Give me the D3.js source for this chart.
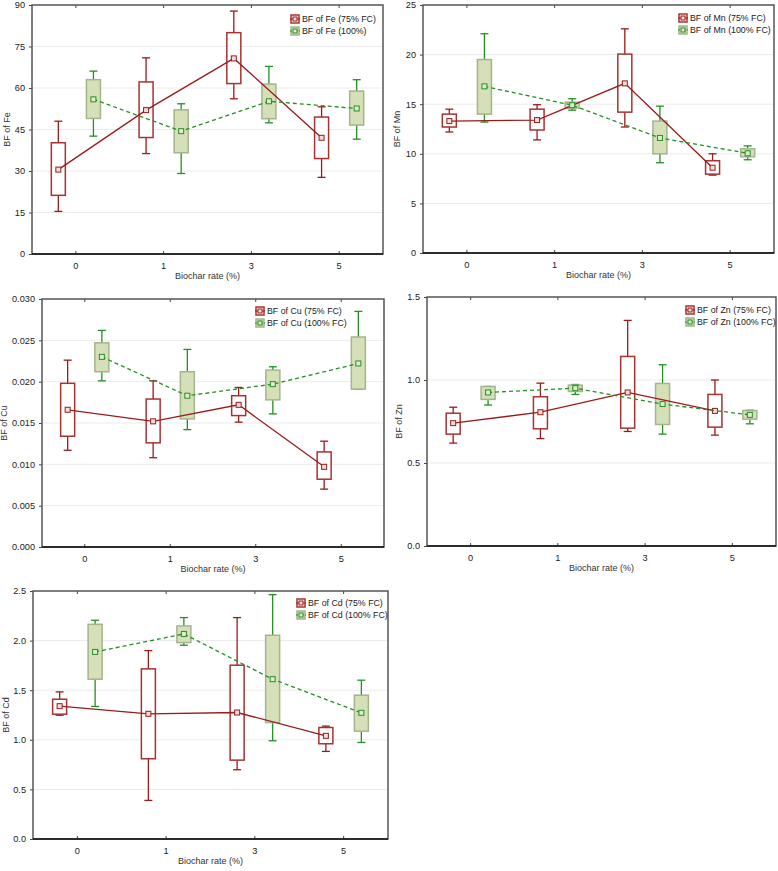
<!DOCTYPE html>
<html><head><meta charset="utf-8">
<script src="https://cdn.jsdelivr.net/npm/d3@7"></script>
<style>body{margin:0;background:#fff}svg{display:block}text{font-family:"Liberation Sans",Arial,sans-serif}</style>
</head><body>
<svg id="c" width="778" height="871"></svg>
<script>
// ---- data: each row = [whiskerLow, boxLow, mean, boxHigh, whiskerHigh] per biochar rate
const categories = ["0", "1", "3", "5"];
const xTitle = "Biochar rate (%)";

const fe75  = [[15.4,21.2,30.5,40.2,48.0],[36.3,42.1,52.0,62.2,70.9],[56.1,61.6,70.7,80.0,87.8],[27.7,34.5,42.0,49.5,53.2]];
const fe100 = [[42.6,49.0,55.9,63.0,66.1],[29.1,36.6,44.4,52.1,54.3],[47.4,48.9,55.2,61.4,67.8],[41.5,46.6,52.6,58.9,63.0]];
const feTicks = [0,15,30,45,60,75,90];

const mn75  = [[12.2,12.7,13.3,14.0,14.5],[11.4,12.4,13.4,14.5,14.95],[12.7,14.2,17.1,20.05,22.6],[7.85,7.95,8.6,9.3,10.0]];
const mn100 = [[13.2,14.0,16.8,19.5,22.1],[14.4,14.6,14.9,15.2,15.55],[9.1,10.0,11.6,13.3,14.8],[9.4,9.7,10.05,10.5,10.8]];
const mnTicks = [0,5,10,15,20,25];

const cu75  = [[0.0117,0.0134,0.0166,0.0198,0.0226],[0.0108,0.0126,0.0152,0.0179,0.0201],[0.0151,0.0159,0.0172,0.0183,0.0193],[0.0070,0.0082,0.0097,0.0115,0.0128]];
const cu100 = [[0.0201,0.0212,0.0230,0.0247,0.0262],[0.0142,0.0155,0.0183,0.0212,0.0239],[0.0161,0.0178,0.0197,0.0214,0.0218],[0.0191,0.0191,0.0222,0.0254,0.0285]];
const cuTicks = [0,0.005,0.010,0.015,0.020,0.025,0.030];

const zn75  = [[0.62,0.674,0.74,0.80,0.836],[0.647,0.706,0.806,0.899,0.981],[0.69,0.71,0.925,1.142,1.359],[0.668,0.716,0.814,0.913,1.0]];
const zn100 = [[0.849,0.883,0.925,0.961,0.961],[0.913,0.931,0.951,0.969,0.973],[0.674,0.732,0.855,0.979,1.092],[0.736,0.764,0.79,0.816,0.818]];
const znTicks = [0,0.5,1.0,1.5];

const cd75  = [[1.248,1.258,1.339,1.409,1.483],[0.389,0.809,1.262,1.715,1.899],[0.698,0.795,1.275,1.752,2.232],[0.883,0.960,1.040,1.124,1.138]];
const cd100 = [[1.336,1.611,1.886,2.164,2.205],[1.953,1.98,2.067,2.148,2.232],[0.990,1.174,1.611,2.054,2.463],[0.973,1.087,1.272,1.450,1.601]];
const cdTicks = [0,0.5,1.0,1.5,2.0,2.5];

// ---- layout / style
const panels = [
  {a:fe75, b:fe100, ticks:feTicks, fmt:d3.format("d"),   yTitle:"BF of Fe", leg:["BF of Fe (75% FC)","BF of Fe (100%)"],      box:[32,5,383,254],  legXY:[291,15], ytX:7},
  {a:mn75, b:mn100, ticks:mnTicks, fmt:d3.format("d"),   yTitle:"BF of Mn", leg:["BF of Mn (75% FC)","BF of Mn (100% FC)"],  box:[423,5,774,253], legXY:[679,14], ytX:397},
  {a:cu75, b:cu100, ticks:cuTicks, fmt:d3.format(".3f"), yTitle:"BF of Cu", leg:["BF of Cu (75% FC)","BF of Cu (100% FC)"],  box:[42,299,384,547],legXY:[256,307], ytX:4},
  {a:zn75, b:zn100, ticks:znTicks, fmt:d3.format(".1f"), yTitle:"BF of Zn", leg:["BF of Zn (75% FC)","BF of Zn (100% FC)"],  box:[427,297,776,546],legXY:[686,306], ytX:399},
  {a:cd75, b:cd100, ticks:cdTicks, fmt:d3.format(".1f"), yTitle:"BF of Cd", leg:["BF of Cd (75% FC)","BF of Cd (100% FC)"],  box:[33,591,388,839],legXY:[297,599], ytX:6}
];
const RED = "#9a1b1b", RED_BOX = "#a83232";
const GRN = "#249024", GRN_FILL = "#d6e0b8", GRN_BOX = "#a4b48c";

const svg = d3.select("#c");

panels.forEach(p => {
  const [x0,y0,x1,y1] = p.box;
  const g = svg.append("g");
  const x = d3.scaleBand().domain(categories).range([x0,x1]).padding(0);
  const y = d3.scaleLinear().domain([0, d3.max(p.ticks)]).range([y1,y0]);
  const bw = x.bandwidth();
  const off = bw*0.2, boxW = 14, capW = 8;

  // gridlines
  g.append("g").selectAll("line").data(p.ticks.slice(1,-1)).join("line")
    .attr("x1",x0).attr("x2",x1).attr("y1",d=>y(d)).attr("y2",d=>y(d))
    .attr("stroke","#ebebeb").attr("stroke-width",1);

  // axes
  const yAx = g.append("g").attr("transform",`translate(${x0},0)`)
    .call(d3.axisLeft(y).tickValues(p.ticks).tickFormat(p.fmt).tickSize(3).tickPadding(4));
  yAx.select(".domain").remove();
  yAx.selectAll("line").attr("stroke","#444");
  yAx.selectAll("text").attr("font-size",9.2).attr("fill","#222");
  const xAx = g.append("g").attr("transform",`translate(0,${y1})`)
    .call(d3.axisBottom(x).tickSizeInner(-3).tickSizeOuter(0).tickPadding(8));
  xAx.select(".domain").remove();
  xAx.selectAll("line").attr("stroke","#444");
  xAx.selectAll("text").attr("font-size",9.2).attr("fill","#222");
  const xTop = g.append("g").attr("transform",`translate(0,${y0})`)
    .call(d3.axisTop(x).tickSizeInner(-3).tickSizeOuter(0).tickFormat(""));
  xTop.select(".domain").remove();
  xTop.selectAll("line").attr("stroke","#444");

  // frame
  g.append("rect").attr("x",x0).attr("y",y0).attr("width",x1-x0).attr("height",y1-y0)
    .attr("fill","none").attr("stroke","#555").attr("stroke-width",1.5);
  g.append("line").attr("x1",x0).attr("x2",x1).attr("y1",y1).attr("y2",y1).attr("stroke","#111").attr("stroke-width",1.5);

  // titles
  g.append("text").attr("x",(x0+x1)/2).attr("y",y1+25).attr("text-anchor","middle")
    .attr("font-size",9).attr("fill","#333").text(xTitle);
  g.append("text").attr("transform",`translate(${p.ytX+3},${(y0+y1)/2}) rotate(-90)`)
    .attr("text-anchor","middle").attr("font-size",9).attr("fill","#333").text(p.yTitle);

  const series = [
    {rows:p.a, dx:-off, stroke:RED_BOX, wh:RED, fill:"#fff", line:RED, dash:null},
    {rows:p.b, dx: off, stroke:GRN_BOX, wh:GRN, fill:GRN_FILL, line:GRN, dash:"4,3"}
  ];

  series.forEach(s => {
    const cx = c => x(c) + bw/2 + s.dx;
    const sg = g.append("g");
    s.rows.forEach((r,i) => {
      const c = categories[i];
      const X = cx(c);
      sg.append("line").attr("x1",X).attr("x2",X).attr("y1",y(r[0])).attr("y2",y(r[1])).attr("stroke",s.wh).attr("stroke-width",1.3);
      sg.append("line").attr("x1",X).attr("x2",X).attr("y1",y(r[3])).attr("y2",y(r[4])).attr("stroke",s.wh).attr("stroke-width",1.3);
      sg.append("line").attr("x1",X-capW/2).attr("x2",X+capW/2).attr("y1",y(r[0])).attr("y2",y(r[0])).attr("stroke",s.wh).attr("stroke-width",1.3);
      sg.append("line").attr("x1",X-capW/2).attr("x2",X+capW/2).attr("y1",y(r[4])).attr("y2",y(r[4])).attr("stroke",s.wh).attr("stroke-width",1.3);
      sg.append("rect").attr("x",X-boxW/2).attr("y",y(r[3])).attr("width",boxW)
        .attr("height",Math.max(1,y(r[1])-y(r[3]))).attr("fill",s.fill).attr("stroke",s.stroke).attr("stroke-width",1.5);
    });
  });
  series.forEach(s => {
    const cx = c => x(c) + bw/2 + s.dx;
    const line = d3.line().x((r,i)=>cx(categories[i])).y(r=>y(r[2]));
    g.append("path").datum(s.rows).attr("d",line).attr("fill","none")
      .attr("stroke",s.line).attr("stroke-width",1.3).attr("stroke-dasharray",s.dash);
    g.append("g").selectAll("rect").data(s.rows).join("rect")
      .attr("x",(r,i)=>cx(categories[i])-2.5).attr("y",r=>y(r[2])-2.5).attr("width",5).attr("height",5)
      .attr("fill",s.fill==="#fff"?"#f3dede":"#e0eccc").attr("stroke",s.line).attr("stroke-width",1);
  });

  // legend
  const [lx,ly] = p.legXY;
  series.forEach((s,i) => {
    const yy = ly + i*12;
    g.append("rect").attr("x",lx).attr("y",yy).attr("width",8).attr("height",8)
      .attr("fill",s.fill==="#fff"?"#fff":GRN_FILL).attr("stroke",s.stroke).attr("stroke-width",1.5);
    g.append("line").attr("x1",lx-1).attr("x2",lx+9).attr("y1",yy+4).attr("y2",yy+4)
      .attr("stroke",s.line).attr("stroke-width",1).attr("stroke-dasharray",s.dash?"2,1":null);
    g.append("rect").attr("x",lx+2).attr("y",yy+2).attr("width",4).attr("height",4)
      .attr("fill",s.fill==="#fff"?"#f3dede":"#e0eccc").attr("stroke",s.line).attr("stroke-width",1);
    g.append("text").attr("x",lx+11).attr("y",yy+4).attr("dy","0.35em")
      .attr("font-size",8.8).attr("fill","#222").text(p.leg[i]);
  });
});
</script>
</body></html>
